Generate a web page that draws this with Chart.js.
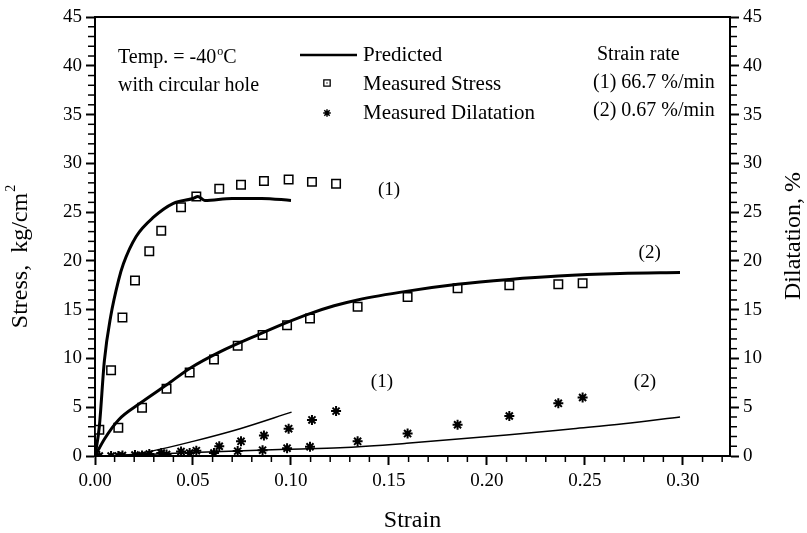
<!DOCTYPE html>
<html>
<head>
<meta charset="utf-8">
<script src="https://cdn.jsdelivr.net/npm/chart.js@4.4.1/dist/chart.umd.min.js"></script>
<style>
html, body { margin: 0; padding: 0; background: #fff; }
#canvas-wrap { width: 807px; height: 533px; }
</style>
</head>
<body>
<div id="canvas-wrap"><canvas id="myChart" width="807" height="533"></canvas></div>
<script>
// Strain rate (1) 66.7 %/min - mesures
var strain1 = [0.0022, 0.0082, 0.0140, 0.0204, 0.0277, 0.0338, 0.0439, 0.0517, 0.0634, 0.0745, 0.0862, 0.0988, 0.1107, 0.1230];
var stress1 = [2.7, 8.8, 14.2, 18.0, 21.0, 23.1, 25.5, 26.6, 27.4, 27.8, 28.2, 28.35, 28.1, 27.9];
var dilat1  = [0.0, 0.0, 0.05, 0.1, 0.2, 0.3, 0.45, 0.55, 1.0, 1.5, 2.1, 2.8, 3.7, 4.6];

// Strain rate (2) 0.67 %/min - mesures
var strain2 = [0.0119, 0.0240, 0.0365, 0.0483, 0.0607, 0.0728, 0.0855, 0.0980, 0.1097, 0.1340, 0.1595, 0.1850, 0.2114, 0.2364, 0.2488];
var stress2 = [2.9, 4.95, 6.9, 8.55, 9.9, 11.3, 12.4, 13.4, 14.1, 15.3, 16.3, 17.2, 17.5, 17.6, 17.7];
var dilat2  = [0.0, 0.05, 0.15, 0.3, 0.3, 0.5, 0.6, 0.8, 0.95, 1.5, 2.3, 3.2, 4.1, 5.4, 6.0];

// Courbes predites
var predStrainS1 = [0, 0.0022, 0.0048, 0.0080, 0.0120, 0.0145, 0.0210, 0.0300, 0.0400, 0.0500, 0.0525, 0.0560, 0.0700, 0.0850, 0.1000];
var predStressS1 = [0, 3.0, 9.8, 14.3, 18.0, 19.7, 22.5, 24.5, 25.9, 26.4, 26.6, 26.2, 26.4, 26.4, 26.2];
var predStrainS2 = [0, 0.0050, 0.0120, 0.0230, 0.0366, 0.0485, 0.0640, 0.0840, 0.0980, 0.1097, 0.1220, 0.1340, 0.1595, 0.1850, 0.2114, 0.2364, 0.2680, 0.2985];
var predStressS2 = [0, 1.8, 3.7, 5.4, 7.3, 9.0, 10.7, 12.5, 13.7, 14.6, 15.4, 16.0, 16.9, 17.6, 18.1, 18.45, 18.7, 18.8];
var predStrainD1 = [0, 0.016, 0.030, 0.050, 0.074, 0.1003];
var predDilatD1  = [0, 0.1, 0.55, 1.5, 2.8, 4.5];
var predStrainD2 = [0, 0.020, 0.050, 0.0978, 0.125, 0.159, 0.210, 0.244, 0.2696, 0.2985];
var predDilatD2  = [0, 0.1, 0.35, 0.7, 0.85, 1.3, 2.15, 2.8, 3.3, 4.0];

var xTicks = [0, 0.05, 0.10, 0.15, 0.20, 0.25, 0.30];
var yTicks = [0, 5, 10, 15, 20, 25, 30, 35, 40, 45];

var POLICE = '"Liberation Serif", "Times New Roman", serif';

function zip(xs, ys) {
	var pts = [];
	for (var i = 0; i < xs.length; i++) pts.push({x: xs[i], y: ys[i]});
	return pts;
}

function ligne(ctx, x1, y1, x2, y2) {
	ctx.beginPath(); ctx.moveTo(x1, y1); ctx.lineTo(x2, y2); ctx.stroke();
}

var decor = {
	id: 'decor',
	afterDraw: function(chart) {
		var ctx = chart.ctx;
		var a = chart.chartArea;
		var sx = chart.scales.x, sy = chart.scales.y;
		ctx.save();
		ctx.strokeStyle = '#000';
		ctx.fillStyle = '#000';

		// cadre du haut
		ctx.lineWidth = 2;
		ligne(ctx, a.left - 1, a.top, a.right + 1, a.top);

		// graduations mineures
		ctx.lineWidth = 1.5;
		for (var i = 1; i < 45; i++) {
			if (i % 5 === 0) continue;
			var py = sy.getPixelForValue(i);
			ligne(ctx, a.left - 7, py, a.left, py);
			ligne(ctx, a.right, py, a.right + 7, py);
		}
		for (var k = 1; k <= 32; k++) {
			if (k % 5 === 0) continue;
			var px = sx.getPixelForValue(k / 100);
			ligne(ctx, px, a.bottom, px, a.bottom + 6);
		}

		ctx.textBaseline = 'middle';

		// etiquettes des courbes
		ctx.font = '19px ' + POLICE;
		ctx.textAlign = 'center';
		ctx.fillText('(1)', sx.getPixelForValue(0.150), sy.getPixelForValue(27.3));
		ctx.fillText('(2)', sx.getPixelForValue(0.283), sy.getPixelForValue(20.8));
		ctx.fillText('(1)', sx.getPixelForValue(0.1464), sy.getPixelForValue(7.6));
		ctx.fillText('(2)', sx.getPixelForValue(0.2806), sy.getPixelForValue(7.6));

		// Temp. = -40 oC
		ctx.textAlign = 'left';
		ctx.font = '20px ' + POLICE;
		var t1 = 'Temp. = -40';
		ctx.fillText(t1, 118, 58);
		var w1 = ctx.measureText(t1).width;
		ctx.font = '12px ' + POLICE;
		ctx.fillText('o', 118 + w1 + 1, 52);
		var wo = ctx.measureText('o').width;
		ctx.font = '20px ' + POLICE;
		ctx.fillText('C', 118 + w1 + wo + 1, 58);
		ctx.fillText('with circular hole', 118, 86);

		// legende
		ctx.lineWidth = 2.5;
		ligne(ctx, 300, 55, 357, 55);
		ctx.fillStyle = '#fff';
		ctx.lineWidth = 1.3;
		Chart.helpers.drawPoint(ctx, {pointStyle: 'rect', radius: 4.5, rotation: 0, borderWidth: 1.3}, 327, 83);
		ctx.fillStyle = '#000';
		ctx.fillRect(326.4, 82.4, 1.2, 1.2);
		ctx.lineWidth = 1.5;
		Chart.helpers.drawPoint(ctx, {pointStyle: 'star', radius: 3.8, rotation: 0, borderWidth: 1.5}, 327, 113);
		ctx.font = '21px ' + POLICE;
		ctx.fillText('Predicted', 363, 55);
		ctx.fillText('Measured Stress', 363, 84);
		ctx.fillText('Measured Dilatation', 363, 113);

		// vitesse de deformation
		ctx.font = '20px ' + POLICE;
		ctx.fillText('Strain rate', 597, 55);
		ctx.fillText('(1) 66.7 %/min', 593, 83);
		ctx.fillText('(2) 0.67 %/min', 593, 111);

		// titres des axes
		ctx.font = '24px ' + POLICE;
		ctx.textAlign = 'center';
		ctx.fillText('Strain', (a.left + a.right) / 2, 521);

		ctx.save();
		ctx.translate(21, 257);
		ctx.rotate(-Math.PI / 2);
		var tS = 'Stress,  kg/cm';
		var wS = ctx.measureText(tS).width;
		ctx.font = '14px ' + POLICE;
		var w2 = ctx.measureText('2').width;
		ctx.font = '24px ' + POLICE;
		ctx.textAlign = 'left';
		var x0 = -(wS + w2) / 2;
		ctx.fillText(tS, x0, 0);
		ctx.font = '14px ' + POLICE;
		ctx.fillText('2', x0 + wS + 1, -10);
		ctx.restore();

		ctx.save();
		ctx.translate(794, 236);
		ctx.rotate(-Math.PI / 2);
		ctx.font = '24px ' + POLICE;
		ctx.textAlign = 'center';
		ctx.fillText('Dilatation, %', 0, 0);
		ctx.restore();

		ctx.restore();
	}
};

function axeY(position, largeur) {
	return {
		type: 'linear',
		position: position,
		min: 0,
		max: 45,
		border: {display: true, color: '#000', width: 2},
		grid: {drawOnChartArea: false, drawTicks: true, tickLength: 9, tickWidth: 2, tickColor: '#000'},
		afterBuildTicks: function(scale) {
			scale.ticks = yTicks.map(function(v) { return {value: v}; });
		},
		ticks: {
			color: '#000',
			padding: 4,
			font: {family: POLICE, size: 19},
			callback: function(value) { return value; }
		},
		afterFit: function(scale) { scale.width = largeur; }
	};
}

// carre ouvert : contour + point central
function serieCarres(xs, ys) {
	return [
	{
		data: zip(xs, ys),
		pointStyle: 'rect', pointRadius: 6, borderWidth: 1.5,
		borderColor: '#000', backgroundColor: '#fff', showLine: false
	},
	{
		data: zip(xs, ys),
		pointStyle: 'circle', pointRadius: 1, borderWidth: 0,
		backgroundColor: '#000', showLine: false
	}];
}

function serieEtoiles(xs, ys) {
	return {
		data: zip(xs, ys),
		pointStyle: 'star', pointRadius: 5, borderWidth: 2,
		borderColor: '#000', showLine: false
	};
}

function courbe(xs, ys, epaisseur) {
	return {
		data: zip(xs, ys),
		showLine: true, pointRadius: 0, borderColor: '#000', borderWidth: epaisseur,
		cubicInterpolationMode: 'monotone', fill: false
	};
}

var ctx = document.getElementById('myChart').getContext('2d');

var datasets = [
	courbe(predStrainS1, predStressS1, 3),
	courbe(predStrainS2, predStressS2, 3),
	courbe(predStrainD1, predDilatD1, 1.5),
	courbe(predStrainD2, predDilatD2, 1.5)
]
	.concat(serieCarres(strain1, stress1))
	.concat(serieCarres(strain2, stress2))
	.concat([serieEtoiles(strain1, dilat1), serieEtoiles(strain2, dilat2)]);

var chart = new Chart(ctx, {
	type: 'scatter',
	data: {datasets: datasets},
	options: {
		responsive: false,
		animation: false,
		layout: {padding: {top: 17, left: 0, right: 0, bottom: 0}},
		plugins: {
			legend: {display: false},
			tooltip: {enabled: false}
		},
		scales: {
			x: {
				type: 'linear',
				position: 'bottom',
				min: 0,
				max: 0.324,
				border: {display: true, color: '#000', width: 2},
				grid: {drawOnChartArea: false, drawTicks: true, tickLength: 9, tickWidth: 2, tickColor: '#000'},
				afterBuildTicks: function(scale) {
					scale.ticks = xTicks.map(function(v) { return {value: v}; });
				},
				ticks: {
					color: '#000',
					padding: 5,
					maxRotation: 0,
					font: {family: POLICE, size: 19},
					callback: function(value) { return Number(value).toFixed(2); }
				},
				afterFit: function(scale) { scale.height = 77; }
			},
			y: axeY('left', 95),
			y2: axeY('right', 77)
		}
	},
	plugins: [decor]
});
</script>
</body>
</html>
